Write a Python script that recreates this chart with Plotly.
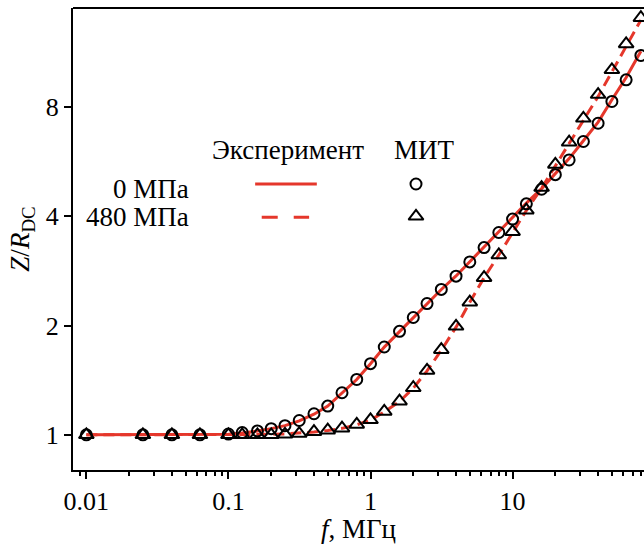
import numpy as np
import plotly.graph_objects as go

# Frequency grid, MHz
freq = [0.01, 0.025, 0.04, 0.063, 0.1, 0.125, 0.16, 0.2, 0.25, 0.315, 0.4, 0.5,
        0.63, 0.8, 1.0, 1.25, 1.6, 2.0, 2.5, 3.15, 4.0, 5.0, 6.3, 8.0, 10.0, 12.5,
        16.0, 20.0, 25.0, 31.5, 40.0, 50.0, 63.0, 80.0]

# Experiment, Z/R_DC
exp_0 = [1.0, 1.0, 1.0, 1.0, 1.004, 1.012, 1.024, 1.04, 1.06, 1.093, 1.14, 1.2,
         1.3, 1.42, 1.57, 1.745, 1.925, 2.1, 2.3, 2.515, 2.74, 3.0, 3.29, 3.62,
         3.95, 4.35, 4.77, 5.24, 5.77, 6.46, 7.27, 8.38, 9.65, 11.4]
exp_480 = [1.0, 1.0, 1.0, 1.0, 1.0, 1.0, 1.001, 1.003, 1.006, 1.01, 1.018, 1.028,
           1.042, 1.066, 1.098, 1.157, 1.235, 1.345, 1.5, 1.71, 1.98, 2.32, 2.71,
           3.13, 3.62, 4.15, 4.78, 5.52, 6.35, 7.38, 8.56, 10.0, 11.8, 13.9]

# MIT model, Z/R_DC
mit_0 = [1.0, 1.0, 1.0, 1.0, 1.005, 1.015, 1.025, 1.04, 1.06, 1.095, 1.143, 1.2,
         1.306, 1.421, 1.571, 1.746, 1.928, 2.105, 2.3, 2.516, 2.737, 2.995, 3.28,
         3.61, 3.93, 4.33, 4.75, 5.21, 5.72, 6.43, 7.22, 8.29, 9.51, 11.1]
mit_480 = [1.0, 1.0, 1.0, 1.0, 1.0, 1.0, 1.0, 1.0, 1.003, 1.008, 1.02, 1.03,
           1.043, 1.068, 1.1, 1.16, 1.238, 1.348, 1.505, 1.716, 1.99, 2.32, 2.71,
           3.13, 3.63, 4.16, 4.8, 5.56, 6.4, 7.45, 8.66, 10.13, 11.94, 14.1]

x_ticks = [0.01, 0.1, 1, 10]
x_ticktext = ["0.01", "0.1", "1", "10"]
y_ticks = [1, 2, 4, 8]
y_ticktext = ["1", "2", "4", "8"]

RED = "#e5372b"
FONT = "Times New Roman, Liberation Serif, serif"

circle_style = dict(symbol="circle-open", size=11, color="black",
                    line=dict(width=2, color="black"))
triangle_style = dict(symbol="triangle-up-open", size=13, color="black",
                      line=dict(width=2, color="black"))

fig = go.Figure()

fig.add_trace(go.Scatter(x=freq, y=exp_0, mode="lines",
                         line=dict(color=RED, width=3)))
fig.add_trace(go.Scatter(x=freq, y=exp_480, mode="lines",
                         line=dict(color=RED, width=3, dash="11px,6px")))
fig.add_trace(go.Scatter(x=freq, y=mit_0, mode="markers", marker=circle_style))
fig.add_trace(go.Scatter(x=freq, y=mit_480, mode="markers", marker=triangle_style))

# Key samples on an overlay axis in plot-fraction units
fig.add_trace(go.Scatter(x=[0.319, 0.427], y=[0.619, 0.619], mode="lines",
                         line=dict(color=RED, width=3), xaxis="x2", yaxis="y2"))
fig.add_trace(go.Scatter(x=[0.3305, 0.4135], y=[0.547, 0.547], mode="lines",
                         line=dict(color=RED, width=3, dash="16px,16px"),
                         xaxis="x2", yaxis="y2"))
fig.add_trace(go.Scatter(x=[0.6007], y=[0.619], mode="markers", marker=circle_style,
                         xaxis="x2", yaxis="y2"))
fig.add_trace(go.Scatter(x=[0.6007], y=[0.549], mode="markers", marker=triangle_style,
                         xaxis="x2", yaxis="y2"))

annos = [
    dict(text="Эксперимент", x=0.376, y=0.692),
    dict(text="МИТ", x=0.615, y=0.692),
    dict(text="0 МПа", x=0.207, y=0.608, xanchor="right"),
    dict(text="480 МПа", x=0.207, y=0.548, xanchor="right"),
]
for a in annos:
    fig.add_annotation(xref="paper", yref="paper", showarrow=False,
                       font=dict(family=FONT, size=27, color="black"),
                       xanchor=a.get("xanchor", "center"), yanchor="middle",
                       x=a["x"], y=a["y"], text=a["text"])

minor_x = [m * 10.0 ** e for e in range(-3, 2) for m in range(2, 10)]

fig.update_layout(
    width=644, height=544,
    margin=dict(l=73, r=0, t=8, b=74),
    paper_bgcolor="white", plot_bgcolor="white",
    showlegend=False,
    font=dict(family=FONT, size=26, color="black"),
    xaxis=dict(
        type="log", range=[-2.094, 1.925], automargin=False,
        tickvals=x_ticks, ticktext=x_ticktext,
        tickfont=dict(family=FONT, size=26, color="black"),
        ticks="outside", ticklen=7, tickwidth=1.5, tickcolor="black",
        showline=True, linewidth=2, linecolor="black", mirror=False,
        showgrid=False, zeroline=False,
        minor=dict(tickvals=minor_x, ticks="outside", ticklen=4,
                   tickwidth=1.5, tickcolor="black", showgrid=False),
        title=dict(text="<i>f</i>, МГц", font=dict(family=FONT, size=27), standoff=12),
    ),
    yaxis=dict(
        type="log", range=[np.log10(0.8), np.log10(15)], automargin=False,
        tickvals=y_ticks, ticktext=y_ticktext,
        tickfont=dict(family=FONT, size=26, color="black"),
        ticks="outside", ticklen=7, tickwidth=1.5, tickcolor="black",
        showline=True, linewidth=2, linecolor="black", mirror=False,
        showgrid=False, zeroline=False,
        title=dict(text="<i>Z</i>/<i>R</i><sub>DC</sub>", font=dict(family=FONT, size=27),
                   standoff=8),
    ),
    xaxis2=dict(overlaying="x", range=[0, 1], visible=False),
    yaxis2=dict(overlaying="y", range=[0, 1], visible=False),
    shapes=[dict(type="line", xref="paper", yref="paper", x0=0, x1=1, y0=1, y1=1,
                 line=dict(color="black", width=2))],
)

fig.write_html("out.html")
